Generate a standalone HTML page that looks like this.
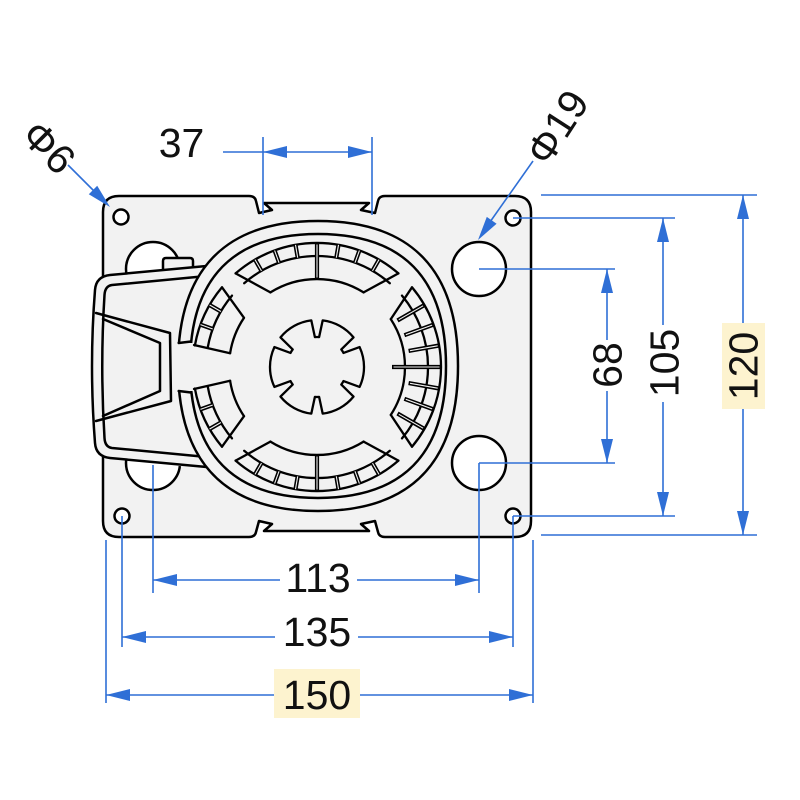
<!DOCTYPE html>
<html>
<head>
<meta charset="utf-8">
<style>
html,body{margin:0;padding:0;background:#fff;}
svg{display:block;}
text{font-family:"Liberation Sans",Arial,sans-serif;font-size:41px;fill:#111;}
</style>
</head>
<body>
<svg width="800" height="800" viewBox="0 0 800 800" xmlns="http://www.w3.org/2000/svg">
<!-- Plate -->
<path d="M119,196 L249,196 Q255,196 256,201 L259,213 L272,210 L264,203 L369,203 L361,210 L375,213 L378,201 Q379,196 385,196 L515,196 Q531,196 531,212 L531,521 Q531,537 515,537 L385,537 Q379,537 378,532 L375,521 L361,524 L369,531 L264,531 L272,524 L259,521 L256,532 Q255,537 249,537 L119,537 Q103,537 103,521 L103,212 Q103,196 119,196 Z" fill="#f2f2f2" stroke="#000" stroke-width="2.5" stroke-linejoin="round"/>

<!-- Holes -->
<g fill="#fff" stroke="#000" stroke-width="2.5">
<circle cx="121" cy="217" r="7.5"/>
<circle cx="513" cy="218" r="7.5"/>
<circle cx="122" cy="516" r="7.5"/>
<circle cx="513" cy="516" r="7.5"/>
<circle cx="479" cy="269" r="27"/>
<circle cx="479" cy="463" r="27"/>
<circle cx="153" cy="269" r="27"/>
<circle cx="153" cy="463" r="27"/>
</g>

<!-- Handle tab -->
<path d="M163,272 L163,261 Q163,258 166,258 L190,258 Q193,258 193,261 L193,272 Z" fill="#f2f2f2" stroke="#000" stroke-width="2.5"/>

<!-- Handle fill -->
<path d="M95,290 Q96,276 110,275 L214,265 L222,300 L222,430 L214,470 L110,458 Q96,457 95,443 Q89,366 95,290 Z" fill="#f2f2f2"/>
<g fill="none" stroke="#000" stroke-width="2.5" stroke-linejoin="round" stroke-linecap="round">
<path d="M212,265.5 L110,275 Q96,276.5 95,290 Q89,366 95,443 Q96,456.5 110,458 L212,467.5"/>
<path d="M212,275.5 L112,285 Q105,286 104.5,295 Q100,366 104.5,438 Q105,447 112,448 L212,457.5"/>
<path d="M96,313 L170,333 L171,401 L96,421"/>
<path d="M103,319 L160,343 L160,391 L103,416"/>
</g>

<!-- Outer ring band -->
<path fill-rule="evenodd" fill="#f2f2f2" stroke="#000" stroke-width="2.5" d="M318,221 C411,221 458,269.7 458,366 C458,462.3 411,511 318,511 C225,511 178,462.3 178,366 C178,269.7 225,221 318,221 Z M318,234 C403,234 446,278.4 446,366 C446,453.6 403,498 318,498 C233,498 190,453.6 190,366 C190,278.4 233,234 318,234 Z"/>
<!-- gap in ring -->
<rect x="175.5" y="343" width="21" height="48" fill="#f2f2f2"/>
<g stroke="#000" stroke-width="2.5" stroke-linecap="round">
<line x1="178.7" y1="343" x2="191" y2="341.5"/>
<line x1="178.7" y1="391" x2="191" y2="392.5"/>
</g>

<!-- Interior: ribbed band, hub, spokes -->
<g fill="none" stroke="#000" stroke-width="2.3" stroke-linecap="round" stroke-linejoin="round">
<path d="M398.4,273.4 A124,124 0 0 0 235.6,273.4"/>
<path d="M389.8,283.2 A111,111 0 0 0 244.2,283.2"/>
<path d="M412,446.7 A124,124 0 0 0 412,287.3"/>
<path d="M402,438.4 A111,111 0 0 0 402,295.6"/>
<path d="M235.6,460.6 A124,124 0 0 0 398.4,460.6"/>
<path d="M244.2,450.8 A111,111 0 0 0 389.8,450.8"/>
<path d="M222,287.3 A124,124 0 0 0 194.9,345.5"/>
<path d="M232,295.6 A111,111 0 0 0 207.7,347.7"/>
<path d="M194.9,388.5 A124,124 0 0 0 222,446.7"/>
<path d="M207.7,386.3 A111,111 0 0 0 232,438.4"/>
<path d="M363.6,292.4 A88,88 0 0 0 270.4,292.4"/>
<path d="M390.8,414.9 A88,88 0 0 0 390.8,319.1"/>
<path d="M270.4,441.6 A88,88 0 0 0 363.6,441.6"/>
<path d="M244,317.8 A88,88 0 0 0 230.1,353.2"/>
<path d="M230.1,380.8 A88,88 0 0 0 244,416.2"/>
<path d="M363.6,292.4 L398.4,273.4"/>
<path d="M390.8,319.1 L412,287.3"/>
<path d="M270.4,292.4 L235.6,273.4"/>
<path d="M244,317.8 L222,287.3"/>
<path d="M363.6,441.6 L398.4,460.6"/>
<path d="M390.8,414.9 L412,446.7"/>
<path d="M270.4,441.6 L235.6,460.6"/>
<path d="M244,416.2 L222,446.7"/>
<path d="M230.1,353.2 L194,345"/>
<path d="M230.1,380.8 L194,389"/>
</g>

<!-- ribs & double spokes -->
<g stroke="#000" stroke-width="4.2" stroke-linecap="butt">
<line x1="317" y1="243" x2="317" y2="279"/>
<line x1="317" y1="455" x2="317" y2="491"/>
<line x1="392" y1="367" x2="441" y2="367"/>
<line x1="372.5" y1="270.9" x2="379" y2="259.6"/>
<line x1="355" y1="262.7" x2="359.4" y2="250.5"/>
<line x1="336.3" y1="257.7" x2="338.5" y2="244.9"/>
<line x1="297.7" y1="257.7" x2="295.5" y2="244.9"/>
<line x1="279" y1="262.7" x2="274.6" y2="250.5"/>
<line x1="261.5" y1="270.9" x2="255" y2="259.6"/>
<line x1="372.5" y1="463.1" x2="379" y2="474.4"/>
<line x1="355" y1="471.3" x2="359.4" y2="483.5"/>
<line x1="336.3" y1="476.3" x2="338.5" y2="489.1"/>
<line x1="297.7" y1="476.3" x2="295.5" y2="489.1"/>
<line x1="279" y1="471.3" x2="274.6" y2="483.5"/>
<line x1="261.5" y1="463.1" x2="255" y2="474.4"/>
<line x1="408.6" y1="350.9" x2="439.1" y2="345.5"/>
<line x1="404.4" y1="335.2" x2="433.5" y2="324.6"/>
<line x1="397.5" y1="320.5" x2="424.4" y2="305"/>
<line x1="408.6" y1="383.1" x2="439.1" y2="388.5"/>
<line x1="404.4" y1="398.8" x2="433.5" y2="409.4"/>
<line x1="397.5" y1="413.5" x2="424.4" y2="429"/>
<line x1="220.9" y1="311.5" x2="209.6" y2="305"/>
<line x1="212.7" y1="329" x2="200.5" y2="324.6"/>
<line x1="220.9" y1="422.5" x2="209.6" y2="429"/>
<line x1="212.7" y1="405" x2="200.5" y2="409.4"/>
</g>
<g stroke="#f2f2f2" stroke-width="1.1" stroke-linecap="butt">
<line x1="317" y1="244.5" x2="317" y2="277.5"/>
<line x1="317" y1="456.5" x2="317" y2="489.5"/>
<line x1="393.5" y1="367" x2="439.5" y2="367"/>
<line x1="372.5" y1="270.9" x2="379" y2="259.6"/>
<line x1="355" y1="262.7" x2="359.4" y2="250.5"/>
<line x1="336.3" y1="257.7" x2="338.5" y2="244.9"/>
<line x1="297.7" y1="257.7" x2="295.5" y2="244.9"/>
<line x1="279" y1="262.7" x2="274.6" y2="250.5"/>
<line x1="261.5" y1="270.9" x2="255" y2="259.6"/>
<line x1="372.5" y1="463.1" x2="379" y2="474.4"/>
<line x1="355" y1="471.3" x2="359.4" y2="483.5"/>
<line x1="336.3" y1="476.3" x2="338.5" y2="489.1"/>
<line x1="297.7" y1="476.3" x2="295.5" y2="489.1"/>
<line x1="279" y1="471.3" x2="274.6" y2="483.5"/>
<line x1="261.5" y1="463.1" x2="255" y2="474.4"/>
<line x1="410" y1="350.7" x2="437.7" y2="345.8"/>
<line x1="405.8" y1="334.7" x2="432.1" y2="325.1"/>
<line x1="398.8" y1="319.7" x2="423.1" y2="305.8"/>
<line x1="410" y1="383.3" x2="437.7" y2="388.2"/>
<line x1="405.8" y1="399.3" x2="432.1" y2="408.9"/>
<line x1="398.8" y1="414.3" x2="423.1" y2="428.2"/>
<line x1="220.9" y1="311.5" x2="209.6" y2="305"/>
<line x1="212.7" y1="329" x2="200.5" y2="324.6"/>
<line x1="220.9" y1="422.5" x2="209.6" y2="429"/>
<line x1="212.7" y1="405" x2="200.5" y2="409.4"/>
</g>

<!-- Center gear -->
<path fill="none" stroke="#000" stroke-width="2.3" stroke-linejoin="round" d="M280.5,396.6 A47,47 0 0 0 311.3,413.6 L314.9,396.9 A30,30 0 0 0 319.1,396.9 L322.7,413.6 A47,47 0 0 0 353.5,396.6 L341.3,384.6 A30,30 0 0 0 343.5,381.1 L359.6,386.9 A47,47 0 0 0 359.6,347.1 L343.5,352.9 A30,30 0 0 0 341.3,349.4 L353.5,337.4 A47,47 0 0 0 322.7,320.4 L319.1,337.1 A30,30 0 0 0 314.9,337.1 L311.3,320.4 A47,47 0 0 0 280.5,337.4 L292.7,349.4 A30,30 0 0 0 290.5,352.9 L274.4,347.1 A47,47 0 0 0 274.4,386.9 L290.5,381.1 A30,30 0 0 0 292.7,384.6 Z"/>

<!-- Dimensions -->
<rect x="722" y="323" width="43" height="86" fill="#fdf3cf"/>
<rect x="274" y="669" width="86" height="49" fill="#fdf3cf"/>
<g stroke="#2f6fd6" stroke-width="1.6" fill="none">
<path d="M223,152 H372 M263,137 V215 M372,137 V215"/>
<path d="M68,165 L100,197"/>
<path d="M533,161 L490,222"/>
<path d="M541,195 H757 M513,218 H675 M479,269 H615 M479,463 H615 M513,516 H675 M541,535 H757"/>
<path d="M607,269 V340 M607,391 V463"/>
<path d="M663,218 V325 M663,402 V516"/>
<path d="M743,195 V323 M743,409 V535"/>
<path d="M153,465 V593 M479,463 V593 M122,516 V647 M513,516 V647 M106,540 V703 M533,540 V703"/>
<path d="M153,580 H280 M357,580 H479"/>
<path d="M122,637 H275 M358,637 H513"/>
<path d="M106,695 H274 M360,695 H533"/>
</g>
<g fill="#2f6fd6">
<polygon points="263,152 287,146 287,158"/>
<polygon points="372,152 348,146 348,158"/>
<polygon points="110,207 88.8,194.2 97.2,185.8"/>
<polygon points="478,240 496.6,223.7 486.8,216.9"/>
<polygon points="607,269 601,293 613,293"/>
<polygon points="607,463 601,439 613,439"/>
<polygon points="663,218 657,242 669,242"/>
<polygon points="663,516 657,492 669,492"/>
<polygon points="743,195 737,219 749,219"/>
<polygon points="743,535 737,511 749,511"/>
<polygon points="153,580 177,574 177,586"/>
<polygon points="479,580 455,574 455,586"/>
<polygon points="122,637 146,631 146,643"/>
<polygon points="513,637 489,631 489,643"/>
<polygon points="106,695 130,689 130,701"/>
<polygon points="533,695 509,689 509,701"/>
</g>

<!-- Labels -->
<text x="181.5" y="157" text-anchor="middle">37</text>
<text x="49" y="161.5" text-anchor="middle" transform="rotate(45 49 147)">Φ6</text>
<text x="557" y="141.5" text-anchor="middle" transform="rotate(-57 557 127)">Φ19</text>
<text x="607" y="379.5" text-anchor="middle" transform="rotate(-90 607 365)">68</text>
<text x="664" y="377.5" text-anchor="middle" transform="rotate(-90 664 363)">105</text>
<text x="743" y="380.5" text-anchor="middle" transform="rotate(-90 743 366)">120</text>
<text x="318" y="592" text-anchor="middle">113</text>
<text x="317" y="646" text-anchor="middle">135</text>
<text x="317" y="709" text-anchor="middle">150</text>
</svg>
</body>
</html>
